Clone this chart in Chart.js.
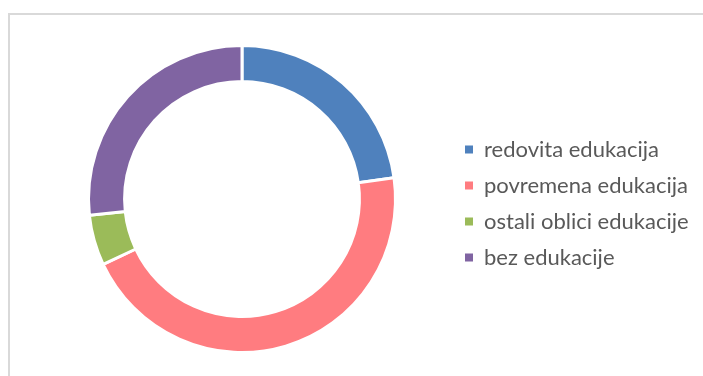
<!DOCTYPE html>
<html>
<head>
<meta charset="utf-8">
<script src="https://cdn.jsdelivr.net/npm/chart.js@4/dist/chart.umd.min.js"></script>
<style>
  html, body { margin: 0; padding: 0; background: #fff; overflow: hidden; }
  #wrap { position: relative; width: 703px; height: 376px; overflow: hidden; }
  #frame { position: absolute; left: 8px; top: 13px; width: 900px; height: 600px;
           border-left: 2px solid #d9d9d9; border-top: 2px solid #d9d9d9; box-sizing: border-box; }
  #c { position: absolute; left: 0; top: 0; }
</style>
</head>
<body>
<div id="wrap">
  <div id="frame"></div>
  <canvas id="c" width="703" height="376"></canvas>
</div>
<script>
const categories = ['redovita edukacija', 'povremena edukacija', 'ostali oblici edukacije', 'bez edukacije'];
const shares = [22.8, 45.2, 5.3, 26.7];
const sliceColors = ['#4F81BD', '#FF7C80', '#9BBB59', '#8064A2'];

const FONT_FAMILY = 'Lato';
const FONT_SIZE = 22;
const BOX = 8;
const LEG_PAD = 14;
const legendLeft = 451;      // where the legend block starts
const centerX = 242;

// measure legend width to place the legend precisely
const mctx = document.createElement('canvas').getContext('2d');
mctx.font = FONT_SIZE + 'px ' + FONT_FAMILY;
const maxText = Math.max(...categories.map(t => mctx.measureText(t).width));
const legendW = LEG_PAD + (BOX + FONT_SIZE / 2 + maxText) + 10;
const padRight = Math.max(0, 703 - legendLeft - legendW);
const padLeft = 2 * centerX - legendLeft;

const defaultLabels = Chart.overrides.doughnut.plugins.legend.labels.generateLabels;

new Chart(document.getElementById('c'), {
  type: 'doughnut',
  data: {
    labels: categories,
    datasets: [{
      data: shares,
      backgroundColor: sliceColors,
      borderColor: '#ffffff',
      borderWidth: 3,
      hoverOffset: 0
    }]
  },
  options: {
    responsive: false,
    animation: false,
    cutout: '76.5%',
    layout: { padding: { left: padLeft, right: padRight, top: 44, bottom: 22 } },
    plugins: {
      tooltip: { enabled: false },
      legend: {
        position: 'right',
        align: 'center',
        title: { display: true, text: '', padding: { top: 9, bottom: 0 }, font: { size: 0 } },
        labels: {
          boxWidth: BOX,
          boxHeight: BOX,
          padding: LEG_PAD,
          color: '#595959',
          font: { family: FONT_FAMILY, size: FONT_SIZE },
          generateLabels: (chart) => defaultLabels(chart).map(item => ({ ...item, lineWidth: 0 }))
        }
      }
    }
  }
});
</script>
</body>
</html>
